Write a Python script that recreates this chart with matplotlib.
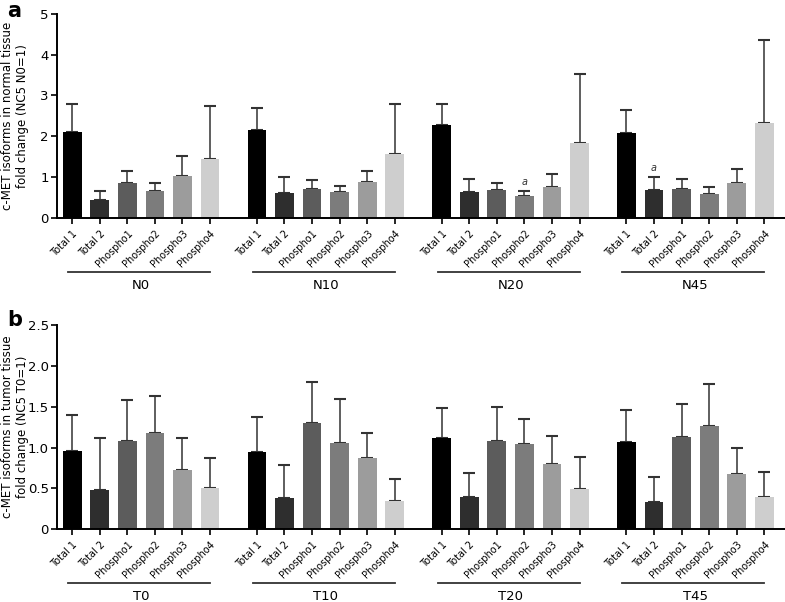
"""c-MET isoform fold change bar charts (normal vs tumor tissue)."""

import matplotlib

matplotlib.use("Agg")
import matplotlib.pyplot as plt
import matplotlib.transforms as mtransforms
import numpy as np

ISOFORMS = ["Total 1", "Total 2", "Phospho1", "Phospho2", "Phospho3", "Phospho4"]
COLORS = ["#000000", "#2e2e2e", "#5c5c5c", "#7c7c7c", "#9c9c9c", "#cecece"]

NORMAL_GROUPS = ["N0", "N10", "N20", "N45"]
NORMAL_MEANS = [
    [2.10, 0.43, 0.86, 0.66, 1.02, 1.45],
    [2.16, 0.62, 0.71, 0.64, 0.89, 1.57],
    [2.27, 0.64, 0.68, 0.54, 0.76, 1.83],
    [2.08, 0.68, 0.72, 0.59, 0.86, 2.33],
]
NORMAL_UPPER = [
    [2.79, 0.67, 1.15, 0.86, 1.51, 2.73],
    [2.69, 1.00, 0.94, 0.79, 1.15, 2.78],
    [2.79, 0.95, 0.86, 0.65, 1.07, 3.52],
    [2.64, 1.00, 0.95, 0.75, 1.21, 4.36],
]
# (group index, isoform index) marked with "a"
NORMAL_MARKS = [(2, 3), (3, 1)]

TUMOR_GROUPS = ["T0", "T10", "T20", "T45"]
TUMOR_MEANS = [
    [0.96, 0.48, 1.08, 1.18, 0.73, 0.51],
    [0.95, 0.38, 1.30, 1.06, 0.87, 0.35],
    [1.12, 0.39, 1.08, 1.04, 0.80, 0.49],
    [1.07, 0.33, 1.13, 1.26, 0.67, 0.40],
]
TUMOR_UPPER = [
    [1.40, 1.12, 1.58, 1.63, 1.12, 0.87],
    [1.38, 0.79, 1.80, 1.59, 1.18, 0.61],
    [1.49, 0.69, 1.50, 1.35, 1.14, 0.89],
    [1.46, 0.64, 1.53, 1.78, 0.99, 0.70],
]

GROUP_PERIOD = 6.7


def draw_panel(ax, groups, means, upper, ylabel, yticks, yticklabels, marks=()):
    n_iso = len(ISOFORMS)
    xs_all, labels_all = [], []
    trans = mtransforms.blended_transform_factory(ax.transData, ax.transAxes)
    for g, name in enumerate(groups):
        xs = g * GROUP_PERIOD + np.arange(n_iso)
        vals = np.array(means[g])
        errs = np.array(upper[g]) - vals
        ax.bar(xs, vals, width=0.68, color=COLORS, edgecolor="none", zorder=2)
        ax.errorbar(xs, vals, yerr=[np.zeros(n_iso), errs], fmt="none", ecolor="#333333",
                    elinewidth=1.1, capsize=4, capthick=1.5, zorder=1)
        xs_all.extend(xs)
        labels_all.extend(ISOFORMS)
        ax.plot([xs[0] - 0.15, xs[-1]], [-0.265, -0.265], color="#333333", lw=1.3,
                transform=trans, clip_on=False)
        ax.text((xs[0] + xs[-1]) / 2, -0.33, name, transform=trans, ha="center",
                va="center", fontsize=9.5)
    for g, i in marks:
        ax.text(g * GROUP_PERIOD + i, upper[g][i] + 0.1, "a", ha="center", va="bottom",
                fontsize=7, style="italic", color="#333333")

    ax.set_xticks(xs_all)
    ax.set_xticklabels(labels_all, rotation=45, ha="right", rotation_mode="anchor", fontsize=7)
    ax.set_xlim(-0.55, 3 * GROUP_PERIOD + 5.75)
    ax.set_yticks(yticks)
    ax.set_yticklabels(yticklabels, fontsize=9.5)
    ax.set_ylim(0, yticks[-1])
    ax.set_ylabel(ylabel, fontsize=8.5)
    ax.yaxis.set_label_coords(-0.039, 0.5)
    for side in ["top", "right"]:
        ax.spines[side].set_visible(False)
    for side in ["left", "bottom"]:
        ax.spines[side].set_linewidth(1.4)
    ax.tick_params(axis="both", width=1.2, length=4)
    ax.tick_params(axis="y", pad=2)


def main():
    fig = plt.figure(figsize=(7.85, 6.02), dpi=100)
    ax_a = fig.add_axes([0.0726, 0.638, 0.9274, 0.339])
    ax_b = fig.add_axes([0.0726, 0.121, 0.9274, 0.339])

    draw_panel(ax_a, NORMAL_GROUPS, NORMAL_MEANS, NORMAL_UPPER,
               "c-MET isoforms in normal tissue\nfold change (NC5 N0=1)",
               [0, 1, 2, 3, 4, 5], ["0", "1", "2", "3", "4", "5"], NORMAL_MARKS)
    draw_panel(ax_b, TUMOR_GROUPS, TUMOR_MEANS, TUMOR_UPPER,
               "c-MET isoforms in tumor tissue\nfold change (NC5 T0=1)",
               [0, 0.5, 1.0, 1.5, 2.0, 2.5], ["0", "0.5", "1.0", "1.5", "2.0", "2.5"])

    fig.text(0.009, 0.982, "a", fontsize=15, fontweight="bold", va="center")
    fig.text(0.009, 0.468, "b", fontsize=15, fontweight="bold", va="center")

    fig.savefig("out.png", dpi=100)
    plt.close(fig)


if __name__ == "__main__":
    main()
